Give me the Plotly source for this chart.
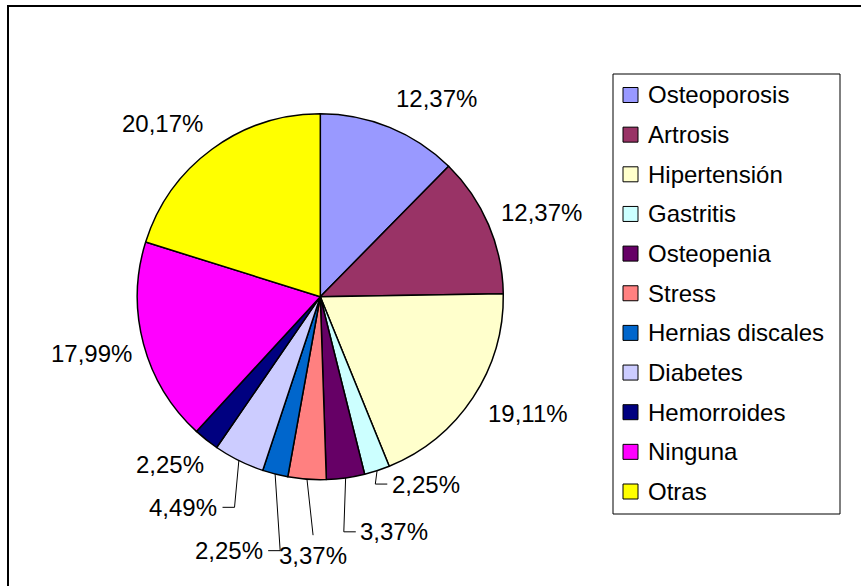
import math
import plotly.graph_objects as go

# ---- data ----
categories = ["Osteoporosis", "Artrosis", "Hipertensión", "Gastritis", "Osteopenia",
              "Stress", "Hernias discales", "Diabetes", "Hemorroides", "Ninguna", "Otras"]
percentages = [12.37, 12.37, 19.11, 2.25, 3.37, 3.37, 2.25, 4.49, 2.25, 17.99, 20.17]
colors = ["#9999FF", "#993366", "#FFFFCC", "#CCFFFF", "#660066", "#FF8080",
          "#0066CC", "#CCCCFF", "#000080", "#FF00FF", "#FFFF00"]

# ---- layout constants (pixels) ----
W, H = 861, 586
CX, CY, R = 320.3, 296.7, 183.0
FONT = "Liberation Sans, Arial, sans-serif"
FS = 24
GAP = 12
# label nudges (dx, dy) from the default outside placement, and leader style
label_nudge = [(2, -9), (1, 2), (4, 0), (11, -7), (13, 33), (41, 55), (-9, 56),
               (-16, 27), (5, 6), (0, -3), (-2, -7)]
leader = [None, None, None, "left", "left", "top", "right", "right", None, None, None]


def px(x):
    return x / W


def py(y):
    return 1 - y / H


fig = go.Figure()
fig.add_trace(go.Pie(
    labels=categories, values=percentages, sort=False, direction="clockwise",
    rotation=0, marker=dict(colors=colors, line=dict(color="#000000", width=1.5)),
    textinfo="none", showlegend=False, hole=0,
    domain=dict(x=[px(CX - R), px(CX + R)], y=[py(CY + R), py(CY - R)]),
))

annotations = []
shapes = []

# outer chart border
shapes.append(dict(type="rect", xref="paper", yref="paper",
                   x0=px(8), x1=px(W + 20), y0=py(H + 20), y1=py(6),
                   line=dict(color="#000000", width=2), fillcolor="rgba(0,0,0,0)", layer="below"))

total = sum(percentages)
cum = 0.0
for i, v in enumerate(percentages):
    mid = (cum + v / 2) / total * 2 * math.pi
    cum += v
    s, c = math.sin(mid), math.cos(mid)
    txt = f"{v:.2f}".replace(".", ",") + "%"
    ndig = sum(ch.isdigit() for ch in txt)
    tw = (0.556 * ndig + 0.278 + 0.889) * FS
    half_w, half_h = tw / 2, 9
    Px, Py = CX + (R + GAP) * s, CY - (R + GAP) * c
    lx = Px + (half_w if s >= 0 else -half_w) + label_nudge[i][0]
    ly = Py + (-half_h if c >= 0 else half_h) + label_nudge[i][1]
    annotations.append(dict(x=px(lx), y=py(ly), xref="paper", yref="paper", text=txt,
                            showarrow=False, xanchor="center", yanchor="middle",
                            font=dict(family=FONT, size=FS, color="#000000")))
    if leader[i]:
        ex, ey = CX + R * s, CY - R * c
        if leader[i] == "left":
            cxp = lx - half_w - 4.5
            pts = [(ex, ey), (cxp - 12, ly), (cxp, ly)]
        elif leader[i] == "right":
            cxp = lx + half_w + 5
            pts = [(ex, ey), (cxp + 12, ly), (cxp, ly)]
        else:
            pts = [(ex, ey), (lx, ly - 20)]
        path = "M " + " L ".join(f"{px(a):.5f},{py(b):.5f}" for a, b in pts)
        shapes.append(dict(type="path", xref="paper", yref="paper", path=path,
                           line=dict(color="#000000", width=1)))

# legend (box, swatches, texts)
LX0, LX1, LY0, LY1 = 613, 840, 74, 514
shapes.append(dict(type="rect", xref="paper", yref="paper",
                   x0=px(LX0), x1=px(LX1), y0=py(LY1), y1=py(LY0),
                   line=dict(color="#000000", width=1), fillcolor="#FFFFFF"))
ROW0, ROWSTEP, SW = 95, 39.65, 15
for i, (name, col) in enumerate(zip(categories, colors)):
    yc = ROW0 + i * ROWSTEP
    shapes.append(dict(type="rect", xref="paper", yref="paper",
                       x0=px(623), x1=px(623 + SW), y0=py(yc + SW / 2), y1=py(yc - SW / 2),
                       line=dict(color="#000000", width=1), fillcolor=col))
    annotations.append(dict(x=px(646), y=py(yc), xref="paper", yref="paper", text=name,
                            showarrow=False, xanchor="left", yanchor="middle",
                            font=dict(family=FONT, size=FS, color="#000000")))

fig.update_layout(
    width=W, height=H, margin=dict(l=0, r=0, t=0, b=0),
    paper_bgcolor="#FFFFFF", plot_bgcolor="#FFFFFF",
    annotations=annotations, shapes=shapes, showlegend=False,
)

fig.write_html("out.html", config={"displayModeBar": False},
               post_script="document.body.style.margin='0';")
